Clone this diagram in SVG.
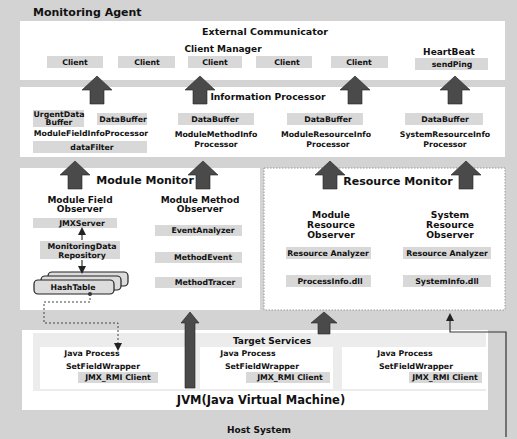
<svg xmlns="http://www.w3.org/2000/svg" width="517" height="439" viewBox="0 0 517 439">
<style>
.band{fill:#d3d3d3}
.panel{fill:#ffffff}
.lbox{fill:#d8d8d8}
.t{font-family:"DejaVu Sans",Verdana,sans-serif;font-weight:bold;fill:#111;text-anchor:middle}
.s{font-size:7.8px}
.m{font-size:9px}
.l{font-size:11px}
.big{fill:#4a4a4a;stroke:#222;stroke-width:0.6}
.thin{fill:none;stroke:#333;stroke-width:1.2}
.dash{fill:none;stroke:#444;stroke-width:1;stroke-dasharray:2 2}
.hash{fill:#dcdcdc;stroke:#222;stroke-width:1.2}
</style>
<defs>
<path id="bigArrow" d="M0,0 L15,14 L7,14 L7,28 L-7,28 L-7,14 L-15,14 Z"/>
<marker id="ah" markerWidth="8" markerHeight="8" refX="4" refY="4" orient="auto" markerUnits="userSpaceOnUse">
<path d="M0,0 L8,4 L0,8 Z" fill="#222"/>
</marker>
</defs>

<!-- background: Host System / Monitoring Agent -->
<rect class="band" x="0" y="0" width="517" height="439"/>

<g id="monitoring-agent">
<text class="t" x="33" y="16" style="font-size:11px;text-anchor:start">Monitoring Agent</text>
</g>

<g id="external-communicator">
<rect class="panel" x="20" y="21" width="485" height="59"/>
<text class="t" x="265" y="35" style="font-size:9.5px">External Communicator</text>
</g>

<g id="client-manager">
<text class="t m" x="223" y="52">Client Manager</text>
<rect class="lbox" x="47" y="56" width="56" height="12"/>
<text class="t s" x="75" y="65">Client</text>
<rect class="lbox" x="118" y="56" width="57" height="12"/>
<text class="t s" x="147" y="65">Client</text>
<rect class="lbox" x="188" y="56" width="54" height="12"/>
<text class="t s" x="215" y="65">Client</text>
<rect class="lbox" x="256" y="56" width="56" height="12"/>
<text class="t s" x="287" y="65">Client</text>
<rect class="lbox" x="331" y="56" width="57" height="12"/>
<text class="t s" x="359" y="65">Client</text>
</g>

<g id="heartbeat">
<text class="t m" x="449" y="55">HeartBeat</text>
<rect class="lbox" x="415" y="58" width="73" height="12"/>
<text class="t s" x="452" y="67">sendPing</text>
</g>

<g id="information-processor">
<rect class="panel" x="20" y="87" width="485" height="70"/>
<text class="t" x="268" y="100" style="font-size:9.2px">Information Processor</text>
</g>

<g id="module-field-info-processor">
<rect class="lbox" x="33" y="110" width="51" height="17"/>
<text class="t s" x="59" y="117">UrgentData</text>
<text class="t s" x="59" y="125">Buffer</text>
<rect class="lbox" x="97" y="113" width="50" height="12"/>
<text class="t s" x="123" y="122">DataBuffer</text>
<text class="t s" x="91" y="136">ModuleFieldInfoProcessor</text>
<rect class="lbox" x="33" y="141" width="114" height="12"/>
<text class="t s" x="92" y="150">dataFilter</text>
</g>

<g id="module-method-info-processor">
<rect class="lbox" x="178" y="113" width="76" height="12"/>
<text class="t s" x="215" y="122">DataBuffer</text>
<text class="t s" x="216" y="137">ModuleMethodInfo</text>
<text class="t s" x="216" y="147">Processor</text>
</g>

<g id="module-resource-info-processor">
<rect class="lbox" x="287" y="113" width="76" height="12"/>
<text class="t s" x="328" y="122">DataBuffer</text>
<text class="t s" x="326" y="137">ModuleResourceInfo</text>
<text class="t s" x="328" y="147">Processor</text>
</g>

<g id="system-resource-info-processor">
<rect class="lbox" x="405" y="113" width="78" height="12"/>
<text class="t s" x="445" y="122">DataBuffer</text>
<text class="t s" x="445" y="137">SystemResourceInfo</text>
<text class="t s" x="445" y="147">Processor</text>
</g>

<g id="module-monitor">
<rect class="panel" x="20" y="168" width="240" height="142"/>
<text class="t l" x="145" y="184">Module Monitor</text>
</g>

<g id="module-field-observer">
<text class="t m" x="80" y="203">Module Field</text>
<text class="t m" x="80" y="212">Observer</text>
<rect class="lbox" x="33" y="218" width="84" height="10"/>
<text class="t s" x="82" y="226">JMXServer</text>
<rect class="lbox" x="40" y="241" width="80" height="18"/>
<text class="t s" x="82" y="249">MonitoringData</text>
<text class="t s" x="82" y="257.5">Repository</text>
<rect class="hash" x="48" y="272" width="80" height="14" rx="4"/>
<rect class="hash" x="41" y="276" width="80" height="14" rx="4"/>
<rect class="hash" x="34" y="280" width="80" height="14" rx="4"/>
<text class="t s" x="73" y="290">HashTable</text>
<circle cx="90" cy="294" r="2" fill="#333"/>
</g>

<g id="module-method-observer">
<text class="t m" x="200" y="203">Module Method</text>
<text class="t m" x="200" y="212">Observer</text>
<rect class="lbox" x="155" y="225" width="87" height="11"/>
<text class="t s" x="203" y="233">EventAnalyzer</text>
<rect class="lbox" x="155" y="252" width="87" height="11"/>
<text class="t s" x="203" y="260">MethodEvent</text>
<rect class="lbox" x="155" y="277" width="87" height="11"/>
<text class="t s" x="205" y="285">MethodTracer</text>
</g>

<g id="resource-monitor">
<rect class="panel" x="264" y="168" width="241" height="142" stroke="#999" stroke-width="1" stroke-dasharray="1.5 1.5"/>
<text class="t l" x="398" y="185">Resource Monitor</text>
</g>

<g id="module-resource-observer">
<text class="t" x="331" y="218" style="font-size:9.2px">Module</text>
<text class="t" x="331" y="228" style="font-size:9.2px">Resource</text>
<text class="t" x="331" y="238" style="font-size:9.2px">Observer</text>
<rect class="lbox" x="286" y="247" width="85" height="12"/>
<text class="t s" x="328" y="256">Resource Analyzer</text>
<rect class="lbox" x="286" y="275" width="85" height="12"/>
<text class="t s" x="330" y="284">ProcessInfo.dll</text>
</g>

<g id="system-resource-observer">
<text class="t" x="450" y="218" style="font-size:9.2px">System</text>
<text class="t" x="450" y="228" style="font-size:9.2px">Resource</text>
<text class="t" x="450" y="238" style="font-size:9.2px">Observer</text>
<rect class="lbox" x="403" y="247" width="88" height="12"/>
<text class="t s" x="447" y="256">Resource Analyzer</text>
<rect class="lbox" x="403" y="275" width="88" height="12"/>
<text class="t s" x="447" y="284">SystemInfo.dll</text>
</g>

<g id="jvm">
<rect class="panel" x="22" y="330" width="466" height="80"/>
<text class="t" x="261" y="404" style="font-size:11.5px">JVM(Java Virtual Machine)</text>
</g>

<g id="target-services">
<rect x="33" y="333" width="453" height="58" fill="#ececec"/>
<text class="t m" x="272" y="344">Target Services</text>
</g>

<g id="java-process-1">
<rect class="panel" x="40" y="347" width="145" height="42"/>
<text class="t s" x="92" y="356">Java Process</text>
<text class="t s" x="103" y="369">SetFieldWrapper</text>
<rect class="lbox" x="78" y="372" width="80" height="11"/>
<text class="t s" x="118" y="380">JMX_RMI Client</text>
</g>

<g id="java-process-2">
<rect class="panel" x="200" y="347" width="133" height="42"/>
<text class="t s" x="248" y="356">Java Process</text>
<text class="t s" x="262" y="369">SetFieldWrapper</text>
<rect class="lbox" x="246" y="372" width="84" height="11"/>
<text class="t s" x="290" y="380">JMX_RMI Client</text>
</g>

<g id="java-process-3">
<rect class="panel" x="342" y="347" width="144" height="42"/>
<text class="t s" x="405" y="356">Java Process</text>
<text class="t s" x="416" y="369">SetFieldWrapper</text>
<rect class="lbox" x="409" y="372" width="73" height="11"/>
<text class="t s" x="445" y="380">JMX_RMI Client</text>
</g>

<g id="host-system">
<text class="t m" x="259" y="433">Host System</text>
</g>

<g id="connectors">
<use href="#bigArrow" class="big" x="97" y="76"/>
<use href="#bigArrow" class="big" x="200" y="76"/>
<use href="#bigArrow" class="big" x="355" y="76"/>
<use href="#bigArrow" class="big" x="455" y="76"/>
<use href="#bigArrow" class="big" x="75" y="161"/>
<use href="#bigArrow" class="big" x="203" y="161"/>
<use href="#bigArrow" class="big" x="330" y="161"/>
<use href="#bigArrow" class="big" x="466" y="161"/>
<path class="big" d="M190,312 L199,323 L195,323 L195,388 L185,388 L185,323 L181,323 Z"/>
<path class="big" d="M324,312 L337,323 L330,323 L330,334 L318,334 L318,323 L311,323 Z"/>
<path class="thin" d="M82,240 L82,231" marker-end="url(#ah)"/>
<path class="thin" d="M82,260 L82,270" marker-end="url(#ah)"/>
<path class="dash" d="M90,294 L90,302 L44,302 L44,323 L118,323 L118,347" marker-end="url(#ah)"/>
<path class="thin" d="M506,437 L506,332 L450,332 L450,317" marker-end="url(#ah)"/>
</g>
</svg>
